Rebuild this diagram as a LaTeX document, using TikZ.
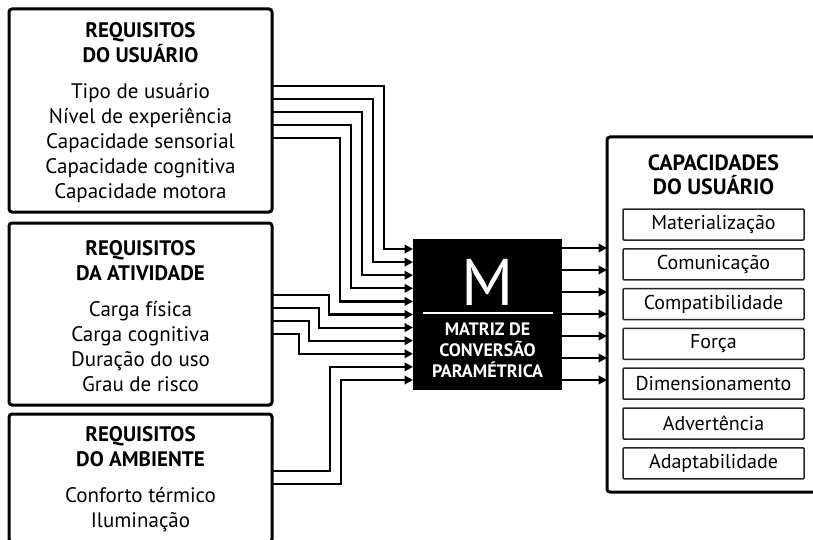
\documentclass[tikz,border=0pt]{standalone}
\usepackage{fontspec}
\setmainfont{PT Sans}
\usetikzlibrary{positioning}
\usetikzlibrary{arrows.meta}

\begin{document}
\begin{tikzpicture}[x=1pt, y=-1pt]
  \tikzstyle{reqbox}=[rectangle, draw = black, line width = 3pt, rounded corners = 3pt, minimum width = 263pt, align = center, outer sep = 0pt, font = \fontsize{21}{25}\selectfont]
  \tikzstyle{capitem}=[rectangle, draw = black!85, line width = 1.5pt, rounded corners = 1pt, minimum width = 181pt, minimum height = 31pt, inner sep = 0pt, outer sep = 0pt, font = \fontsize{20}{23}\selectfont]
  \tikzstyle{capframe}=[rectangle, draw = black, line width = 3pt, rounded corners = 3pt, minimum width = 210pt, minimum height = 355pt, outer sep = 0pt]
  \tikzstyle{converter}=[rectangle, fill = black, minimum width = 149pt, minimum height = 151pt, inner sep = 0pt, outer sep = 0pt]
  \tikzstyle{connect}=[-{Triangle[length = 8.5pt, width = 8.5pt]}, line width = 2.2pt]

  \useasboundingbox (0,0) rectangle (813,540);
  \clip (0,0) rectangle (813,540);

  % requisitos
  \node[reqbox, minimum height = 203pt] (ru) at (140.5,110.5) {\rule{0pt}{20pt}\textbf{REQUISITOS}\\\textbf{DO USUÁRIO}\\[11pt]Tipo de usuário\\Nível de experiência\\Capacidade sensorial\\Capacidade cognitiva\\Capacidade motora};
  \node[reqbox, minimum height = 182pt] (ra) [below = 11pt of ru] {\rule{0pt}{20pt}\textbf{REQUISITOS}\\\textbf{DA ATIVIDADE}\\[11pt]Carga física\\Carga cognitiva\\Duração do uso\\Grau de risco};
  \node[reqbox, minimum height = 128pt] (re) [below = 9pt of ra] {\rule{0pt}{18pt}\textbf{REQUISITOS}\\\textbf{DO AMBIENTE}\\[11pt]Conforto térmico\\Iluminação};

  % matriz
  \node[converter] (m) at (487.5,314.5) {};
  \node[text = white, font = \fontsize{66}{66}\selectfont] (mletter) at ([yshift = -43]m.north) {M};
  \draw[white, line width = 2pt] ([xshift = 10, yshift = -74]m.north west) -- ([xshift = -9, yshift = -74]m.north east);
  \node[text = white, align = center, font = \bfseries\fontsize{18}{21}\selectfont] (mtext) at ([yshift = -111]m.north) {MATRIZ DE\\CONVERSÃO\\PARAMÉTRICA};

  % capacidades
  \node[capframe] (cap) at (712,314.5) {};
  \node[align = center, font = \bfseries\fontsize{22}{24}\selectfont] (captitle) at (713.5,174.5) {CAPACIDADES\\DO USUÁRIO};
  \node[capitem] (c1) at (713.5,224.5) {Materialização};
  \node[capitem] (c2) [below = 8.8pt of c1] {Comunicação};
  \node[capitem] (c3) [below = 8.8pt of c2] {Compatibilidade};
  \node[capitem] (c4) [below = 8.8pt of c3] {Força};
  \node[capitem] (c5) [below = 8.8pt of c4] {Dimensionamento};
  \node[capitem] (c6) [below = 8.8pt of c5] {Advertência};
  \node[capitem] (c7) [below = 8.8pt of c6] {Adaptabilidade};

  \foreach \i in {1,...,11}
    \coordinate (in\i) at ([yshift = {-10 - 13.1*(\i-1)}]m.north west);
  \foreach \i in {1,...,7}
    \coordinate (out\i) at ([yshift = {-9 - 22*(\i-1)}]m.north east);

  \draw[connect] ([yshift = -77]ru.north east) -| ([xshift = -29]in1) -- (in1);
  \draw[connect] ([yshift = -90]ru.north east) -| ([xshift = -40]in2) -- (in2);
  \draw[connect] ([yshift = -103]ru.north east) -| ([xshift = -51]in3) -- (in3);
  \draw[connect] ([yshift = -116]ru.north east) -| ([xshift = -62]in4) -- (in4);
  \draw[connect] ([yshift = -129]ru.north east) -| ([xshift = -73]in5) -- (in5);

  \draw[connect] ([yshift = -72]ra.north east) -| ([xshift = -84]in6) -- (in6);
  \draw[connect] ([yshift = -85]ra.north east) -| ([xshift = -94]in7) -- (in7);
  \draw[connect] ([yshift = -98]ra.north east) -| ([xshift = -104]in8) -- (in8);
  \draw[connect] ([yshift = -111]ra.north east) -| ([xshift = -114]in9) -- (in9);

  \draw[connect] ([yshift = -57]re.north east) -| ([xshift = -83]in10) -- (in10);
  \draw[connect] ([yshift = -70]re.north east) -| ([xshift = -72]in11) -- (in11);

  \foreach \i in {1,...,7}
    \draw[connect] (out\i) -- (out\i -| cap.west);

\end{tikzpicture}
\end{document}
